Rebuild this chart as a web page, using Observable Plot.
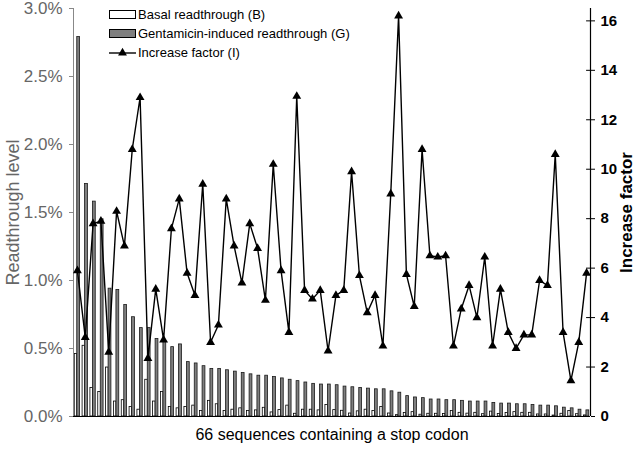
<!DOCTYPE html>
<html><head><meta charset="utf-8">
<script src="https://cdn.jsdelivr.net/npm/d3@7"></script>
<script src="https://cdn.jsdelivr.net/npm/@observablehq/plot@0.6"></script>
<style>
body{margin:0;background:#fff;}
#chart{position:relative;width:640px;height:451px;font-family:"Liberation Sans",Arial,sans-serif;}
#chart svg.over{position:absolute;left:0;top:0;}
#legend{position:absolute;left:109px;top:5px;font-size:13px;color:#000;}
#legend .row{display:flex;align-items:center;height:19px;white-space:nowrap;}
#legend svg{margin-right:1px;}
</style></head><body><div id="chart"></div>
<script>
// Values in percent (readthrough) and plain factor (increase)
const basal = [0.46,0.52,0.21,0.18,0.36,0.11,0.12,0.07,0.05,0.27,0.11,0.18,0.07,0.06,0.07,0.08,0.04,0.115,0.09,0.04,
  0.05,0.06,0.04,0.045,0.064,0.03,0.047,0.08,0.02,0.05,0.05,0.045,0.085,0.047,0.042,0.022,0.038,0.05,0.04,0.07,
  0.022,0.01,0.026,0.032,0.013,0.02,0.02,0.018,0.04,0.027,0.021,0.027,0.017,0.036,0.019,0.026,0.032,0.027,0.027,0.015,
  0.015,0.007,0.02,0.04,0.017,0.008];
const gentamicin = [2.79,1.71,1.58,1.45,0.94,0.93,0.82,0.73,0.65,0.65,0.57,0.55,0.51,0.53,0.40,0.39,0.37,0.35,0.35,0.34,
  0.33,0.32,0.31,0.30,0.30,0.29,0.28,0.27,0.26,0.25,0.24,0.235,0.235,0.23,0.22,0.215,0.21,0.205,0.20,0.20,
  0.185,0.175,0.15,0.14,0.135,0.125,0.125,0.12,0.12,0.115,0.11,0.11,0.11,0.10,0.095,0.095,0.09,0.09,0.085,0.08,
  0.08,0.075,0.065,0.06,0.05,0.045];
const increase = [5.9,3.2,7.8,7.9,2.6,8.3,6.9,10.8,12.9,2.35,5.15,3.1,7.6,8.8,5.8,4.9,9.4,3.0,3.7,8.8,
  6.9,5.4,7.8,6.8,4.7,10.2,5.9,3.4,12.95,5.1,4.75,5.1,2.65,4.9,5.1,9.9,5.7,4.2,4.9,2.85,
  9.0,16.2,5.75,4.45,10.8,6.5,6.45,6.5,2.85,4.35,5.3,4.0,6.45,2.85,5.15,3.4,2.75,3.3,3.3,5.5,
  5.3,10.6,3.4,1.45,3.0,5.8];
const leftTicks = [0,0.5,1,1.5,2,2.5,3];
const rightTicks = [0,2,4,6,8,10,12,14,16];
const legendLabels = ["Basal readthrough (B)","Gentamicin-induced readthrough (G)","Increase factor (I)"];
const xTitle = "66 sequences containing a stop codon";
const leftTitle = "Readthrough level";
const rightTitle = "Increase factor";

const data = basal.map((b,i)=>({i:i+1,B:b,G:gentamicin[i],I:increase[i]}));
const W=640,H=451;
const frame = {width:W,height:H,marginTop:8,marginBottom:35,marginLeft:73,marginRight:50};
const font = '"Liberation Sans",Arial,sans-serif';
const n = data.length;

const p1 = Plot.plot({
  ...frame,
  x:{type:"linear",domain:[0.5,n+0.5],axis:null},
  y:{domain:[0,3],axis:null},
  style:{fontFamily:font,background:"white",overflow:"visible"},
  marks:[
    Plot.rectY(data,{x1:d=>d.i-0.34,x2:d=>d.i-0.02,y:"B",fill:"white",stroke:"black",strokeWidth:0.8}),
    Plot.rectY(data,{x1:d=>d.i-0.02,x2:d=>d.i+0.34,y:"G",fill:"#7f7f7f",stroke:"#1a1a1a",strokeWidth:0.8}),
    Plot.axisY(leftTicks,{anchor:"left",tickSize:4,tickPadding:7,tickFormat:d=>d.toFixed(1)+"%",fill:"#666",stroke:"#888",fontSize:17,label:null}),
    Plot.ruleX([0.5],{stroke:"#888",strokeWidth:1}),
    Plot.ruleY([0],{stroke:"black",strokeWidth:1}),
    Plot.text([leftTitle],{frameAnchor:"left",dx:-60,rotate:-90,textAnchor:"middle",fontSize:18,fill:"#666"}),
    Plot.text([xTitle],{frameAnchor:"bottom",dy:23,textAnchor:"middle",fontSize:16,fill:"black"})
  ]
});

const p2 = Plot.plot({
  ...frame,
  x:{type:"linear",domain:[0.5,n+0.5],axis:null},
  y:{domain:[0,16.5],axis:null},
  style:{fontFamily:font,background:"transparent",overflow:"visible"},
  marks:[
    Plot.line(data,{x:"i",y:"I",stroke:"black",strokeWidth:1.4}),
    Plot.dot(data,{x:"i",y:"I",symbol:"triangle",r:3.3,fill:"black",stroke:"none"}),
    Plot.ruleX([n+0.5],{stroke:"black",strokeWidth:1.2}),
    Plot.ruleY(rightTicks,{x1:n,x2:n+0.5,stroke:"black"}),
    Plot.axisY(rightTicks,{anchor:"right",tickSize:4,tickPadding:6,fontSize:15,fontWeight:"bold",fill:"black",stroke:"black",label:null}),
    Plot.text([rightTitle],{frameAnchor:"right",dx:36,rotate:-90,textAnchor:"middle",fontSize:17,fontWeight:"bold",fill:"black"})
  ]
});
p2.classList.add("over");

const chart = document.getElementById("chart");
chart.appendChild(p1);
chart.appendChild(p2);

const legend = document.createElement("div");
legend.id = "legend";
const ns = "http://www.w3.org/2000/svg";
legendLabels.forEach((lab,k)=>{
  const row = document.createElement("div");
  row.className = "row";
  const s = document.createElementNS(ns,"svg");
  s.setAttribute("width",28); s.setAttribute("height",19);
  if (k<2) {
    const r = document.createElementNS(ns,"rect");
    r.setAttribute("x",0.5); r.setAttribute("y",5.5); r.setAttribute("width",26); r.setAttribute("height",8);
    r.setAttribute("fill",k===0?"white":"#7f7f7f"); r.setAttribute("stroke","black"); r.setAttribute("stroke-width",1);
    s.appendChild(r);
  } else {
    const l = document.createElementNS(ns,"line");
    l.setAttribute("x1",0); l.setAttribute("x2",27); l.setAttribute("y1",10); l.setAttribute("y2",10);
    l.setAttribute("stroke","black"); l.setAttribute("stroke-width",1.4);
    s.appendChild(l);
    const t = document.createElementNS(ns,"path");
    t.setAttribute("d",d3.symbol(d3.symbolTriangle, Math.PI*3.3*3.3)());
    t.setAttribute("transform","translate(13.5,10)");
    s.appendChild(t);
  }
  const sp = document.createElement("span");
  sp.textContent = lab;
  row.appendChild(s); row.appendChild(sp);
  legend.appendChild(row);
});
chart.appendChild(legend);
</script></body></html>
